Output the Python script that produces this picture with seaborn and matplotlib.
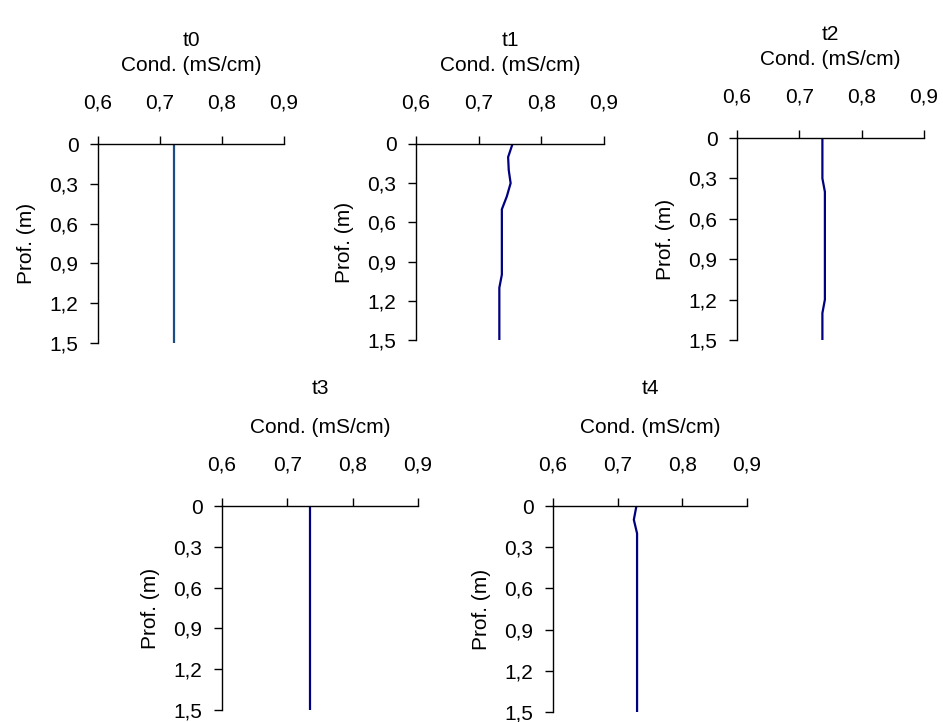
"""Perfis de condutividade elétrica (t0 ~ t4) em função da profundidade."""

import matplotlib
matplotlib.use("Agg")
import matplotlib.pyplot as plt
import seaborn as sns
from matplotlib.ticker import FuncFormatter

sns.set_style("white")
plt.rcParams["font.family"] = ["Liberation Sans", "DejaVu Sans"]
plt.rcParams["text.color"] = "black"
plt.rcParams["axes.labelcolor"] = "black"

# profundidades (m)
depth = [0.0, 0.1, 0.2, 0.3, 0.4, 0.5, 0.6, 0.7, 0.8, 0.9, 1.0, 1.1, 1.2, 1.3, 1.4, 1.5]

# condutividade (mS/cm) por campanha
cond_t0 = [0.722] * 16
cond_t1 = [0.754, 0.747, 0.748, 0.751, 0.745, 0.737, 0.737, 0.737, 0.737, 0.737,
           0.737, 0.733, 0.733, 0.733, 0.733, 0.733]
cond_t2 = [0.737, 0.737, 0.737, 0.737, 0.741, 0.741, 0.741, 0.741, 0.741, 0.741,
           0.741, 0.741, 0.741, 0.737, 0.737, 0.737]
cond_t3 = [0.734] * 16
cond_t4 = [0.729, 0.725, 0.730, 0.730, 0.730, 0.730, 0.730, 0.730, 0.730, 0.730,
           0.730, 0.730, 0.730, 0.730, 0.730, 0.730]

names = ["t0", "t1", "t2", "t3", "t4"]
series = [cond_t0, cond_t1, cond_t2, cond_t3, cond_t4]
colors = ["#1c4c86", "#000080", "#000080", "#000080", "#000080"]

x_ticks = [0.6, 0.7, 0.8, 0.9]
y_ticks = [0, 0.3, 0.6, 0.9, 1.2, 1.5]

W, H = 943, 722
# caixas dos eixos em pixels: esquerda, topo, largura, altura
boxes = [
    (98, 144, 186, 199),
    (416, 144, 188, 196),
    (737, 138, 187, 202),
    (222, 506, 196, 204),
    (553, 506, 194, 206),
]
# distância do título (linha de cima mais junta que a de baixo)
title_pads = [7, 7, 7, 17, 17]

fs = 15

fig = plt.figure(figsize=(W / 100, H / 100), dpi=100)


def virgula(v, pos):
    s = f"{v:.1f}".replace(".", ",")
    return "0" if s == "0,0" else s


for name, cond, col, (l, t, w, h), tpad in zip(names, series, colors, boxes, title_pads):
    ax = fig.add_axes([l / W, (H - t - h) / H, w / W, h / H])
    sns.lineplot(x=cond, y=depth, orient="y", sort=False, estimator=None,
                 color=col, linewidth=1.6, ax=ax)

    ax.set_xlim(0.6, 0.9)
    ax.set_ylim(1.5, 0)
    ax.set_xticks(x_ticks)
    ax.set_yticks(y_ticks)
    ax.xaxis.set_major_formatter(FuncFormatter(virgula))
    ax.yaxis.set_major_formatter(FuncFormatter(virgula))

    ax.xaxis.tick_top()
    ax.xaxis.set_label_position("top")
    ax.tick_params(axis="x", top=True, bottom=False, direction="out",
                   length=6, width=1, pad=17, labelsize=fs, colors="black")
    ax.tick_params(axis="y", left=True, direction="out",
                   length=6, width=1, pad=8, labelsize=fs, colors="black")

    for side in ["right", "bottom"]:
        ax.spines[side].set_visible(False)
    for side in ["left", "top"]:
        ax.spines[side].set_color("black")
        ax.spines[side].set_linewidth(1)

    ax.set_xlabel("Cond. (mS/cm)", fontsize=fs, labelpad=16)
    ax.set_ylabel("Prof. (m)", fontsize=fs, labelpad=10)
    ax.set_title(name, fontsize=fs, pad=tpad)

plt.savefig("out.png", dpi=100)
